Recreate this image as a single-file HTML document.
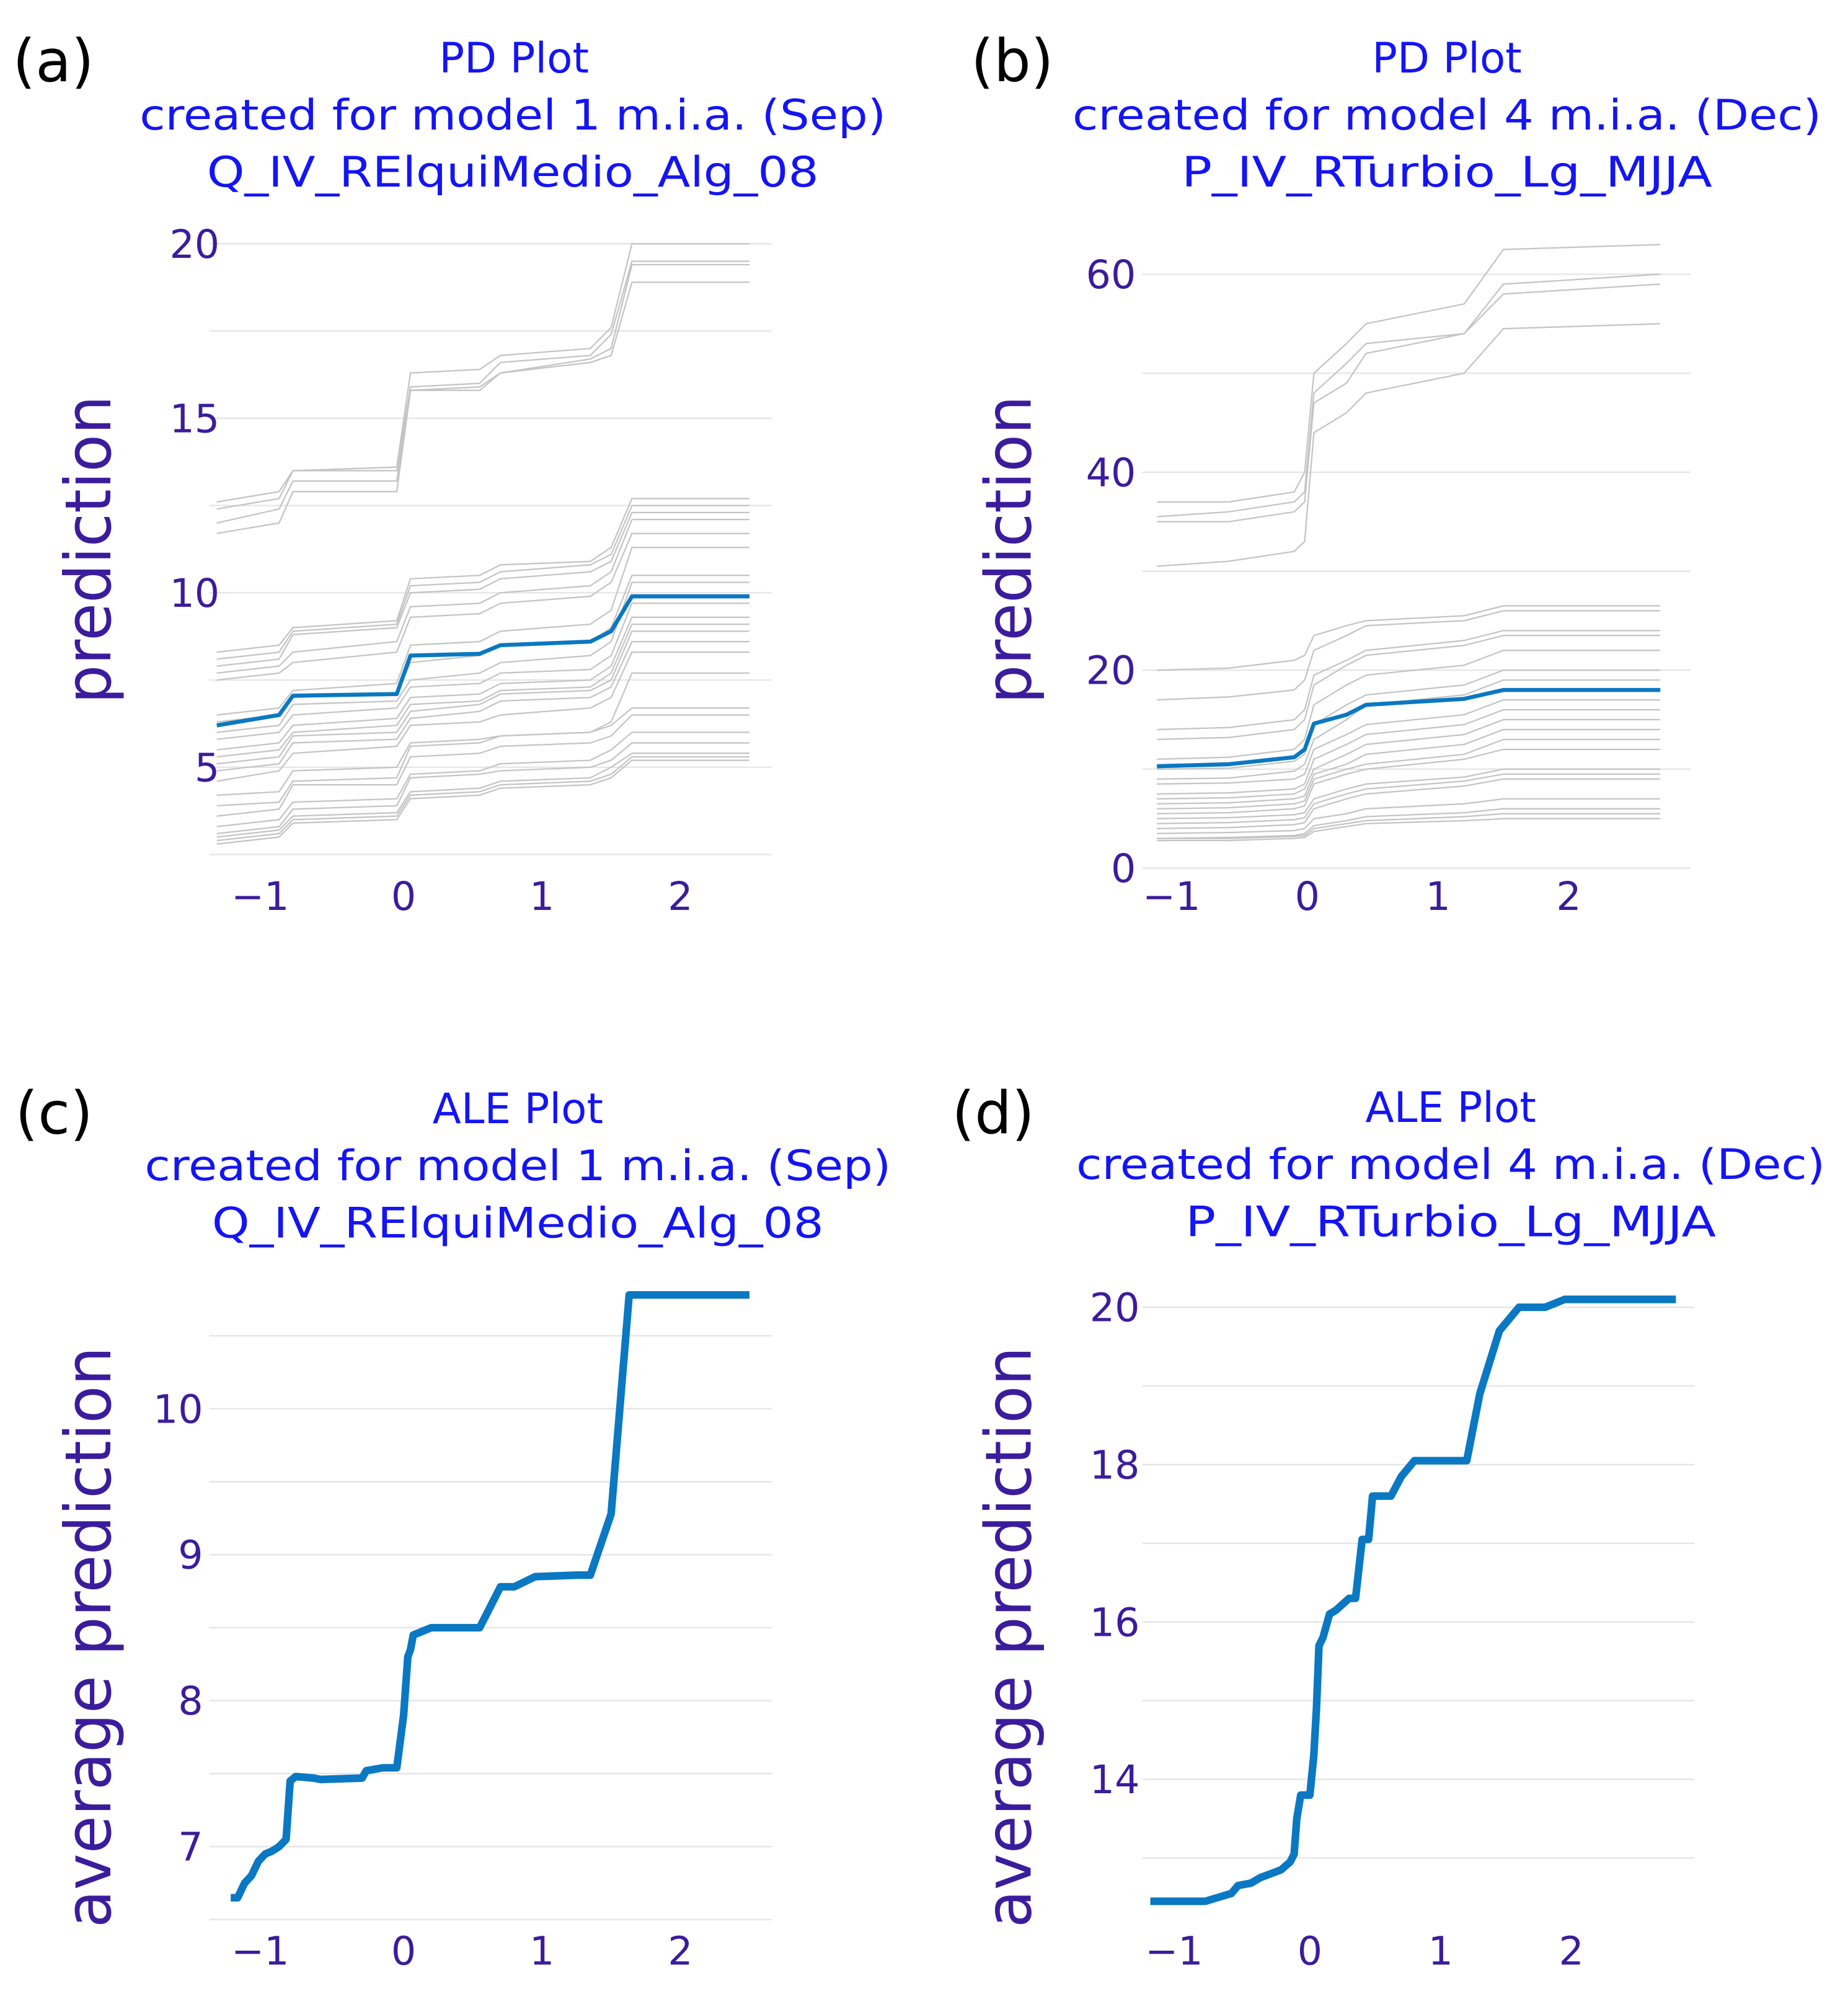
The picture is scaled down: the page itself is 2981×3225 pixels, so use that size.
<!DOCTYPE html>
<html><head><meta charset="utf-8"><style>
html,body{margin:0;padding:0;background:#fff}
svg{display:block}
</style></head><body>
<svg id="fig" width="2981" height="3225" viewBox="0 0 1456 1575" xmlns="http://www.w3.org/2000/svg" font-family="'DejaVu Sans','Liberation Sans',sans-serif">
<g font-size="46" fill="#000">
<text x="10" y="64">(a)</text>
<text x="765" y="64">(b)</text>
<text x="12" y="893">(c)</text>
<text x="750" y="893">(d)</text>
</g>
<g font-size="33" fill="#1414f5" text-anchor="middle">
<text x="405" y="57">PD Plot</text>
<text x="404" y="102" textLength="588" lengthAdjust="spacingAndGlyphs">created for model 1 m.i.a. (Sep)</text>
<text x="404" y="147" textLength="482" lengthAdjust="spacingAndGlyphs">Q_IV_RElquiMedio_Alg_08</text>
<text x="1140" y="57">PD Plot</text>
<text x="1140" y="102" textLength="590" lengthAdjust="spacingAndGlyphs">created for model 4 m.i.a. (Dec)</text>
<text x="1140" y="147" textLength="418" lengthAdjust="spacingAndGlyphs">P_IV_RTurbio_Lg_MJJA</text>
<text x="408" y="885">ALE Plot</text>
<text x="408" y="930" textLength="588" lengthAdjust="spacingAndGlyphs">created for model 1 m.i.a. (Sep)</text>
<text x="408" y="975" textLength="482" lengthAdjust="spacingAndGlyphs">Q_IV_RElquiMedio_Alg_08</text>
<text x="1143" y="884">ALE Plot</text>
<text x="1143" y="929" textLength="590" lengthAdjust="spacingAndGlyphs">created for model 4 m.i.a. (Dec)</text>
<text x="1143" y="974" textLength="418" lengthAdjust="spacingAndGlyphs">P_IV_RTurbio_Lg_MJJA</text>
</g>
<g font-size="50" fill="#3b1c9c" text-anchor="middle">
<text transform="translate(87,433) rotate(-90)" textLength="243" lengthAdjust="spacingAndGlyphs">prediction</text>
<text transform="translate(812,433) rotate(-90)" textLength="243" lengthAdjust="spacingAndGlyphs">prediction</text>
<text transform="translate(87,1290) rotate(-90)" textLength="458" lengthAdjust="spacingAndGlyphs">average prediction</text>
<text transform="translate(812,1290) rotate(-90)" textLength="458" lengthAdjust="spacingAndGlyphs">average prediction</text>
</g>
</svg>
<script>
// ---------- Panel (a) PD data ----------
const aKeysX = [-1.35,-0.9,-0.8,-0.05,0.05,0.55,0.7,1.35,1.5,1.65,2.5];
const aMean = [6.2,6.5,7.05,7.1,8.2,8.25,8.5,8.6,8.9,9.9,9.9];
const aIce = [
[12.6,12.9,13.5,13.6,16.3,16.4,16.8,17.0,17.6,20.0,20.0],
[12.4,12.7,13.5,13.5,15.9,16.0,16.6,16.8,17.4,19.5,19.5],
[12.0,12.4,13.2,13.2,15.8,15.9,16.3,16.7,17.0,19.4,19.4],
[11.7,12.0,12.9,12.9,15.8,15.8,16.3,16.6,16.8,18.9,18.9],
[8.3,8.5,9.0,9.2,10.4,10.5,10.8,10.9,11.3,12.7,12.7],
[8.1,8.3,8.9,9.1,10.2,10.3,10.6,10.8,11.1,12.5,12.5],
[7.9,8.1,8.8,9.0,10.0,10.1,10.4,10.6,10.9,12.3,12.3],
[7.7,7.9,8.3,8.6,9.6,9.7,10.0,10.2,10.6,12.1,12.1],
[7.5,7.7,8.0,8.3,9.3,9.4,9.7,9.9,10.3,11.7,11.7],
[6.5,6.7,7.2,7.4,8.5,8.6,8.9,9.1,9.5,11.3,11.3],
[6.3,6.5,7.0,7.1,8.0,8.2,8.5,8.6,9.0,10.5,10.5],
[6.0,6.2,6.8,6.9,7.5,7.7,8.0,8.2,8.6,10.3,10.3],
[5.8,6.0,6.5,6.7,7.3,7.4,7.7,7.8,8.2,9.7,9.7],
[5.5,5.7,6.2,6.4,7.0,7.1,7.4,7.5,7.9,9.3,9.3],
[5.3,5.5,6.0,6.2,6.8,6.9,7.2,7.3,7.7,9.1,9.1],
[5.1,5.3,5.9,6.0,6.6,6.8,7.1,7.2,7.5,8.9,8.9],
[4.9,5.1,5.7,5.8,6.4,6.6,6.9,7.0,7.3,8.6,8.6],
[4.6,4.9,5.4,5.6,6.2,6.3,6.5,6.7,7.0,8.3,8.3],
[4.2,4.3,4.9,5.0,5.7,5.8,5.9,6.0,6.3,7.7,7.7],
[3.9,4.0,4.6,4.7,5.6,5.7,5.9,6.0,6.2,6.7,6.7],
[3.6,3.8,4.5,4.5,5.3,5.4,5.6,5.7,5.9,6.5,6.5],
[3.3,3.5,4.0,4.1,4.8,4.9,5.1,5.2,5.5,6.0,6.0],
[3.1,3.3,3.8,3.9,4.7,4.8,4.9,5.0,5.2,5.7,5.7],
[3.0,3.2,3.6,3.7,4.3,4.4,4.6,4.7,5.0,5.4,5.4],
[2.9,3.1,3.5,3.6,4.2,4.3,4.5,4.6,4.8,5.3,5.3],
[2.8,3.0,3.4,3.5,4.1,4.2,4.4,4.5,4.7,5.2,5.2]
];
const aYTicks = [5,10,15,20];
const aGrid = [2.5,5,7.5,10,12.5,15,17.5,20];
const aXTicks = [-1,0,1,2];

// ---------- Panel (b) PD data ----------
const bKeysX = [-1.15,-0.6,-0.1,-0.02,0.05,0.3,0.45,1.2,1.5,2.7];
const bMean = [10.3,10.5,11.2,12.0,14.6,15.5,16.5,17.1,18.0,18.0];
const bIce = [
[37,37,38,40,50,53,55,57,62.5,63],
[35.5,36,37,38,48,51,53,54,59,60],
[35,35,36,37,47,49,52,54,58,59],
[30.5,31,32,33,44,46,48,50,54.5,55],
[20,20.2,21,21.5,23.5,24.5,25,25.5,26.5,26.5],
[17,17.3,18,19,22,23.5,24.5,25,26,26],
[14,14.2,15,16,19.5,21,22,23,24,24],
[13,13.2,14,15,18.5,20.5,21.5,22.5,23.5,23.5],
[11,11.2,12,13,16.5,18.5,19.5,20.5,22,22],
[10,10.1,10.8,11.5,14.5,16.5,17.5,18.5,20,20],
[9,9.1,9.8,10.5,13,15,16.5,17.5,19,19],
[8.5,8.6,9,9.5,12,13.5,14.5,15.5,17,17],
[7.5,7.6,8,8.5,11,12.5,13.5,14.5,16,16],
[7,7.1,7.5,8,10,11.5,12.5,13.5,15,15],
[6.5,6.6,7,7.3,9.5,10.5,11.5,12.5,14,14],
[6,6.1,6.5,6.8,9,10,10.5,11.5,13,13],
[5.5,5.6,6,6.3,8.5,9.5,10,11,12,12],
[5,5.1,5.4,5.6,7,8,8.5,9.2,10,10],
[4.5,4.6,4.9,5.1,6.5,7.5,8,8.8,9.5,9.5],
[4,4.1,4.4,4.6,6,7,7.5,8.3,9,9],
[3.5,3.6,3.8,4,5,5.5,6,6.5,7,7],
[3,3.1,3.3,3.5,4.3,4.8,5.2,5.6,6,6],
[3,3,3.2,3.3,4,4.5,4.8,5.2,5.5,5.5],
[2.8,2.8,3,3.1,3.7,4.2,4.5,4.8,5,5]
];
const bYTicks = [0,20,40,60];
const bGrid = [0,10,20,30,40,50,60];
const bXTicks = [-1,0,1,2];

// ---------- Panel (c) ALE data ----------
const cX = [-1.25,-1.2,-1.15,-1.1,-1.05,-1.0,-0.95,-0.9,-0.85,-0.82,-0.78,-0.65,-0.6,-0.3,-0.27,-0.15,-0.05,0.0,0.03,0.05,0.07,0.2,0.55,0.7,0.8,0.95,1.25,1.35,1.5,1.63,2.5];
const cY = [6.65,6.65,6.75,6.8,6.9,6.95,6.97,7.0,7.05,7.45,7.48,7.47,7.46,7.47,7.52,7.54,7.54,7.9,8.3,8.35,8.45,8.5,8.5,8.78,8.78,8.85,8.86,8.86,9.28,10.78,10.78];
const cYTicks = [7,8,9,10];
const cGrid = [6.5,7,7.5,8,8.5,9,9.5,10,10.5];
const cXTicks = [-1,0,1,2];

// ---------- Panel (d) ALE data ----------
const dX = [-1.22,-0.8,-0.7,-0.6,-0.55,-0.45,-0.38,-0.3,-0.22,-0.15,-0.12,-0.1,-0.07,0.0,0.03,0.05,0.07,0.1,0.15,0.2,0.3,0.35,0.4,0.45,0.48,0.62,0.7,0.8,1.2,1.3,1.45,1.6,1.8,1.95,2.8];
const dY = [12.45,12.45,12.5,12.55,12.65,12.68,12.75,12.8,12.85,12.95,13.05,13.5,13.8,13.8,14.3,14.9,15.7,15.8,16.1,16.15,16.3,16.3,17.05,17.05,17.6,17.6,17.85,18.05,18.05,18.9,19.7,20.0,20.0,20.1,20.1];
const dYTicks = [14,16,18,20];
const dGrid = [13,14,15,16,17,18,19,20];
const dXTicks = [-1,0,1,2];

const NS = 'http://www.w3.org/2000/svg';
const svg = document.getElementById('fig');
function mk(tag, attrs, parent){const e=document.createElementNS(NS,tag);for(const k in attrs)e.setAttribute(k,attrs[k]);parent.appendChild(e);return e;}

function panel(id, cfg){
  const g = mk('g',{},svg);
  
  
  const sx = v => cfg.x0 + (v - cfg.xv0) * cfg.kx;
  const sy = v => cfg.y0 + (v - cfg.yv0) * cfg.ky;
  const grid = mk('g',{},g);
  
  
  cfg.grid.forEach(v=>{
    const l = mk('line',{x1:cfg.left,x2:cfg.right,y1:sy(v),y2:sy(v),stroke:'#e6e6e6','stroke-width':1.2},grid);
    
    
  });
  cfg.yTicks.forEach(v=>{
    const t = mk('text',{x:cfg.yLabX,y:sy(v)+11,'text-anchor':'end','font-size':31,fill:'#3b1c9c'},g);
    t.textContent = String(v);
    
    
  });
  cfg.xTicks.forEach(v=>{
    const t = mk('text',{x:sx(v)+(v<0?-4:0),y:cfg.xLabY,'text-anchor':'middle','font-size':31,fill:'#3b1c9c'},g);
    t.textContent = v<0 ? '\u2212'+Math.abs(v) : String(v);
    
    
  });
  const pts = (xs,ys)=>xs.map((x,i)=>sx(x).toFixed(1)+','+sy(ys[i]).toFixed(1)).join(' ');
  if(cfg.ice){
    const ig = mk('g',{},g);
    
    
    cfg.ice.forEach(row=>{
      const p = mk('polyline',{points:pts(cfg.xs,row),fill:'none',stroke:'#c4c4c4','stroke-width':1.1},ig);
      
      
    });
  }
  const m = mk('polyline',{points:pts(cfg.xs,cfg.ys),fill:'none',stroke:'#0a78c2','stroke-width':cfg.lw,'stroke-linejoin':'round'},g);
  
  
}

panel('a',{x0:318,xv0:0,kx:109,y0:467,yv0:10,ky:-27.5,left:165,right:608,grid:aGrid,yTicks:aYTicks,xTicks:aXTicks,yLabX:173,xLabY:717,ice:aIce,xs:aKeysX,ys:aMean,lw:3.2,lineName:'pd-mean-line-a'});
panel('b',{x0:1030,xv0:0,kx:103,y0:684,yv0:0,ky:-7.8,left:900,right:1332,grid:bGrid,yTicks:bYTicks,xTicks:bXTicks,yLabX:895,xLabY:717,ice:bIce,xs:bKeysX,ys:bMean,lw:3.2,lineName:'pd-mean-line-b'});
panel('c',{x0:318,xv0:0,kx:109,y0:1110,yv0:10,ky:-115,left:165,right:608,grid:cGrid,yTicks:cYTicks,xTicks:cXTicks,yLabX:160,xLabY:1548,xs:cX,ys:cY,lw:6,lineName:'ale-line-c'});
panel('d',{x0:1032,xv0:0,kx:103,y0:1030,yv0:20,ky:-62,left:900,right:1335,grid:dGrid,yTicks:dYTicks,xTicks:dXTicks,yLabX:898,xLabY:1548,xs:dX,ys:dY,lw:6,lineName:'ale-line-d'});
</script>
</body></html>
